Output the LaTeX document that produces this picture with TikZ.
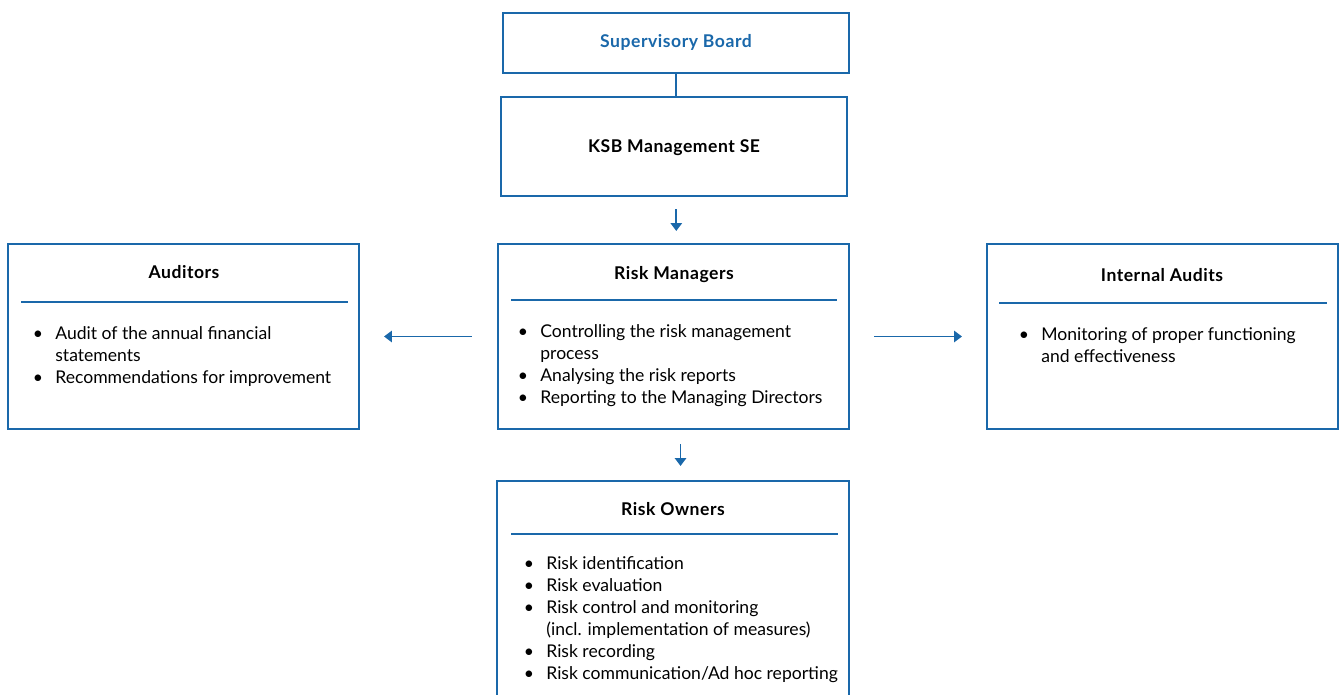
\documentclass[tikz,border=0pt]{standalone}
\usepackage{fontspec}
\setmainfont{Lato}
\newfontfamily\headfont[LetterSpace=3]{Lato}
\usetikzlibrary{arrows.meta,positioning,calc,fit}
\definecolor{ksbblue}{RGB}{26,104,170}
\newcommand\bul{\makebox[0.38cm][l]{\kern-2pt\textbullet}}
\newcommand\ind{\hspace*{0.38cm}}
\tikzset{
  orgbox/.style={draw=ksbblue, line width=1.2pt, inner sep=0pt},
  headtext/.style={font=\fontsize{10}{12}\headfont\bfseries, anchor=base},
  listtext/.style={font=\fontsize{10}{12.5}\selectfont, align=left, inner sep=0pt, anchor=north west},
  flow/.style={draw=ksbblue, line width=1pt, -{Triangle[length=4.5pt,width=6.5pt]}},
  rulel/.style={draw=ksbblue, line width=0.6pt}
}
\begin{document}
\begin{tikzpicture}[x=0.02cm, y=-0.02cm]
\useasboundingbox (0,0) rectangle (1339,695);

%boxes
\node[orgbox, fit={(503,13) (849,73)}] (sup) {};
\node[orgbox, fit={(501,97) (847,196)}] (ksb) {};
\node[orgbox, fit={(8,244) (359,429)}] (aud) {};
\node[orgbox, fit={(498,244) (849,429)}] (riskm) {};
\node[orgbox, fit={(987,244) (1338,429)}] (intaud) {};
\node[orgbox, fit={(497,481) (849,720)}] (owners) {};

%titles
\node[headtext, text=ksbblue] (suptitle) at (676,48) {Supervisory Board};
\node[headtext] (ksbtitle) at (674,153) {KSB Management SE};
\node[headtext] (audtitle) at (184,279) {Auditors};
\node[headtext] (riskmtitle) at (674,280) {Risk Managers};
\node[headtext] (inttitle) at (1162,282) {Internal Audits};
\node[headtext] (ownerstitle) at (673,516) {Risk Owners};

%rules
\draw[rulel] (21,302) -- (348,302);
\draw[rulel] (511,300) -- (837,300);
\draw[rulel] (999,303) -- (1327,303);
\draw[rulel] (511,534) -- (838,534);

%lists
\node[listtext] (audlist) at (36,324) {\strut\bul Audit of the annual financial\\ \ind statements\\ \bul Recommendations for improvement};
\node[listtext] (riskmlist) at (521,322) {\strut\bul Controlling the risk management\\ \ind process\\ \bul Analysing the risk reports\\ \bul Reporting to the Managing Directors};
\node[listtext] (intlist) at (1022,325) {\strut\bul Monitoring of proper functioning\\ \ind and effectiveness};
\node[listtext] (ownerslist) at (527,554) {\strut\bul Risk identification\\ \bul Risk evaluation\\ \bul Risk control and monitoring\\ \ind (incl. implementation of measures)\\ \bul Risk recording\\ \bul Risk communication/Ad hoc reporting};

%connectors
\draw[draw=ksbblue, line width=0.8pt] (sup.south) -- (sup.south |- ksb.north);
\draw[flow, shorten <=0.24cm, shorten >=0.24cm] ([xshift=1.3]ksb.south) -- ([xshift=1.3]ksb.south |- riskm.north);
\draw[flow, shorten <=0.28cm, shorten >=0.28cm] ([xshift=4]riskm.south) -- ([xshift=4]riskm.south |- owners.north);
\draw[flow, shorten <=0.5cm, shorten >=0.48cm] (riskm.west) -- (aud.east);
\draw[flow, shorten <=0.48cm, shorten >=0.48cm] (riskm.east) -- (intaud.west);
\end{tikzpicture}
\end{document}
